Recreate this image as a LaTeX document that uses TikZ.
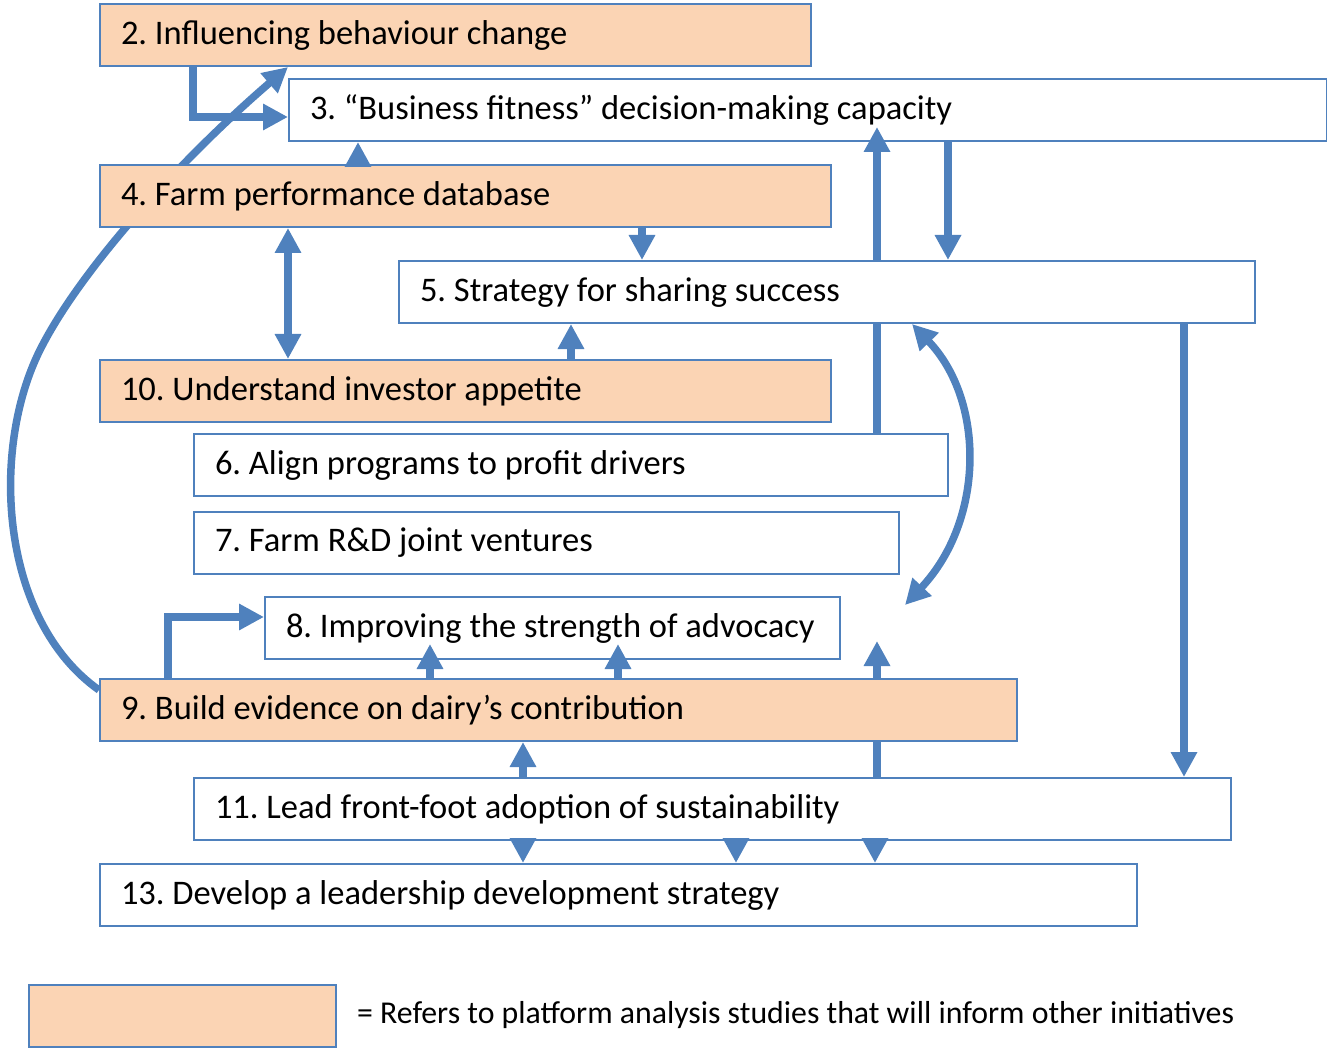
\documentclass[tikz,border=0pt]{standalone}
\usepackage{fontspec}
\setmainfont{Carlito}
\frenchspacing
\usetikzlibrary{arrows.meta,calc}
\definecolor{bblue}{HTML}{4F81BD}
\definecolor{peach}{HTML}{FBD4B4}
\pgfdeclarelayer{back}\pgfdeclarelayer{mid}\pgfdeclarelayer{upper}\pgfdeclarelayer{top}
\pgfsetlayers{back,main,mid,upper,top}
\begin{document}
\begin{tikzpicture}[x=1pt,y=-1pt,
 box/.style={draw=bblue,line width=2pt,fill=white,inner xsep=21pt,inner ysep=0pt,minimum height=62pt,anchor=north west,align=flush left,font=\fontsize{34.5}{39}\selectfont},
 hl/.style={box,fill=peach},
 conn/.style={draw=bblue,line width=7.5pt,line join=miter,-{Triangle[length=25pt,width=25pt]}},
 biconn/.style={draw=bblue,line width=7.5pt,{Triangle[length=25pt,width=25pt]}-{Triangle[length=25pt,width=25pt]}}]
\useasboundingbox (0,0) rectangle (1327,1048);
% boxes
\node[hl,text width=669pt] (b2) at (99,3) {2. Influencing behaviour change};
\node[box,text width=996pt] (b3) at (288,78) {3. “Business fitness” decision-making capacity};
\node[hl,text width=689pt] (b4) at (99,164) {4. Farm performance database};
\begin{pgfonlayer}{upper}
\node[box,text width=814pt] (b5) at (398,260) {5. Strategy for sharing success};
\end{pgfonlayer}
\node[hl,text width=689pt] (b10) at (99,359) {10. Understand investor appetite};
\node[box,text width=712pt] (b6) at (193,433) {6. Align programs to profit drivers};
\node[box,text width=663pt] (b7) at (193,511) {7. Farm R\&D joint ventures};
\node[box,text width=533pt] (b8) at (264,596) {8. Improving the strength of advocacy};
\node[hl,text width=875pt] (b9) at (99,678) {9. Build evidence on dairy’s contribution};
\node[box,text width=995pt] (b11) at (193,777) {11. Lead front-foot adoption of sustainability};
\node[box,text width=995pt] (b13) at (99,863) {13. Develop a leadership development strategy};
\node[hl,minimum width=307pt,inner xsep=0pt] (leg) at (28,984) {};
\node[anchor=west,inner sep=0pt,font=\fontsize{31.8}{36}\selectfont] (legtext) at (357,1015) {= Refers to platform analysis studies that will inform other initiatives};
\coordinate (c58) at (905,605);
\coordinate (c118) at (877,641);
% connectors behind boxes
\begin{pgfonlayer}{back}
\draw[conn] ($(b9.north west)+(0,12)$) .. controls (0,620) and (-10,450) .. (40,350) .. controls (80,270) and (180,160) .. ($(b2.south west)+(189,0)$);
\draw[conn] ($(b11.north west)+(684,0)$) -- (c118);
\end{pgfonlayer}
\begin{pgfonlayer}{mid}
\draw[conn] ($(b6.north west)+(684,0)$) -- ($(b3.south west)+(589,-15)$);
\end{pgfonlayer}
\begin{pgfonlayer}{top}
\draw[conn] ($(b2.south west)+(94,0)$) |- ($(b3.north west)+(0,39)$);
\draw[conn] ($(b4.north west)+(259,0)$) -- ($(b3.south west)+(70,0)$);
\draw[conn] ($(b4.south west)+(543,0)$) -- ($(b5.north west)+(244,0)$);
\draw[biconn] ($(b4.south west)+(189,0)$) -- ($(b10.north west)+(189,0)$);
\draw[conn] ($(b10.north west)+(472,0)$) -- ($(b5.south west)+(173,0)$);
\draw[conn] ($(b3.south west)+(660,0)$) -- ($(b5.north west)+(550,0)$);
\draw[biconn] ($(b5.south west)+(514,0)$) .. controls (985,400) and (985,520) .. (c58);
\draw[conn] ($(b5.south west)+(786,0)$) -- ($(b11.north west)+(991,0)$);
\draw[conn] ($(b9.north west)+(69,0)$) |- ($(b8.north west)+(0,21)$);
\draw[conn] ($(b9.north west)+(331,0)$) -- ($(b8.south west)+(166,-16)$);
\draw[conn] ($(b9.north west)+(519,0)$) -- ($(b8.south west)+(354,-16)$);
\draw[conn] ($(b11.north west)+(330,0)$) -- ($(b9.south west)+(424,0)$);
\draw[conn] ($(b11.south west)+(330,0)$) -- ($(b13.north west)+(424,0)$);
\draw[conn] ($(b11.south west)+(543,0)$) -- ($(b13.north west)+(637,0)$);
\draw[conn] ($(b11.south west)+(682,0)$) -- ($(b13.north west)+(776,0)$);
\end{pgfonlayer}
\end{tikzpicture}
\end{document}
